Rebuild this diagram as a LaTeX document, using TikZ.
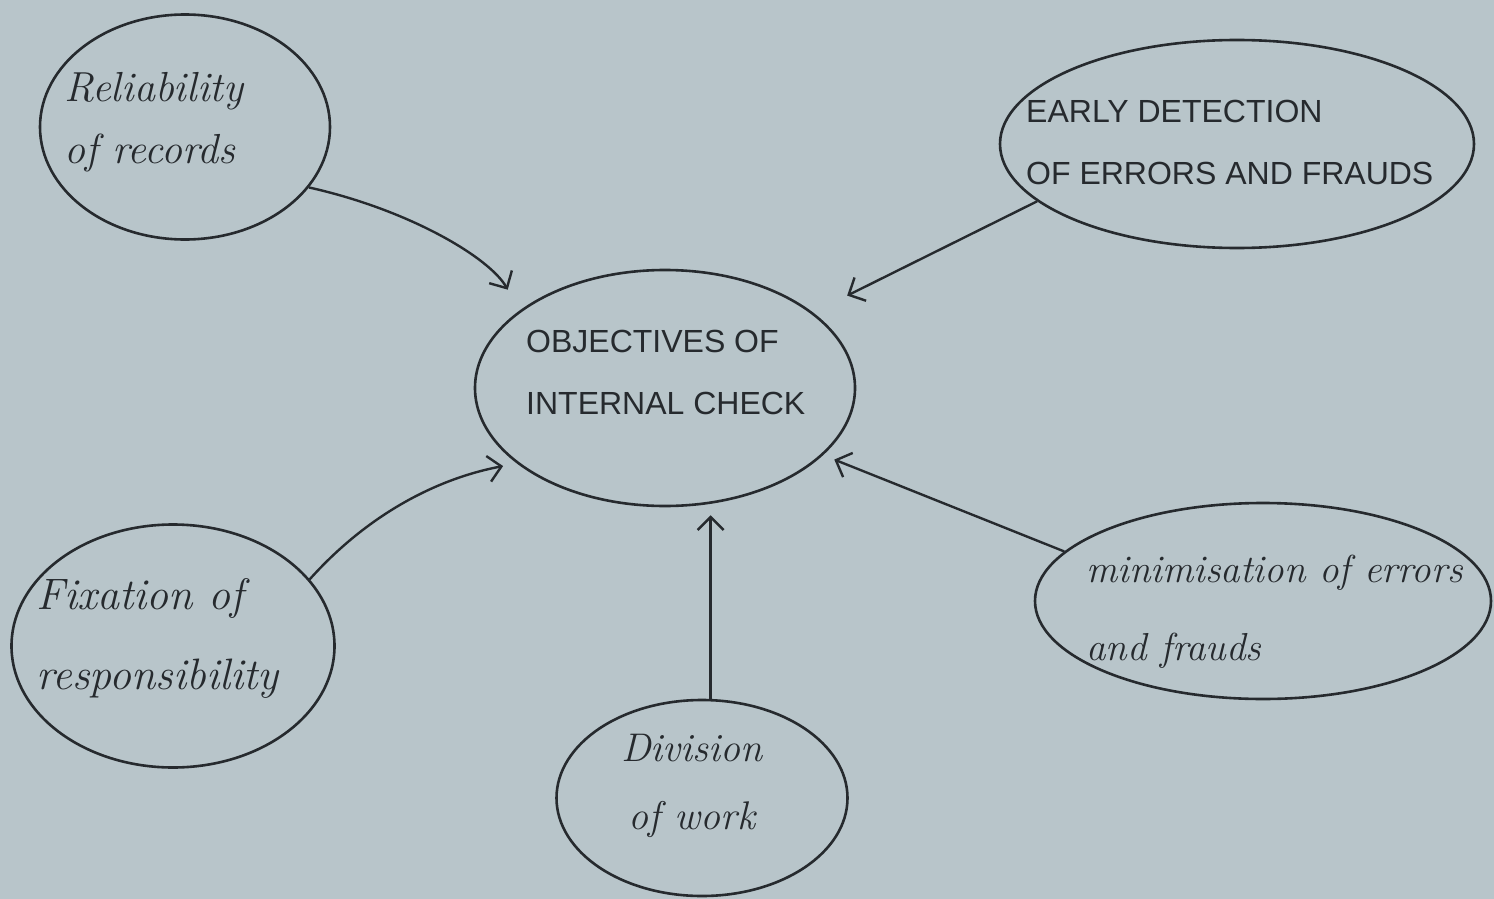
\documentclass[tikz,border=0pt]{standalone}
\usepackage{fontspec}
\setsansfont{Liberation Sans}
\usetikzlibrary{shapes.geometric,arrows.meta}
\definecolor{paper}{RGB}{184,197,202}
\definecolor{ink}{RGB}{38,42,46}
\begin{document}
\begin{tikzpicture}[x=1pt,y=-1pt,
  bubble/.style={draw=ink, line width=2.6pt, ellipse, inner sep=0pt},
  lbl/.style={text=ink, align=left, inner sep=0pt},
  hand/.style={lbl, font=\fontsize{42}{62}\selectfont\itshape},
  caps/.style={lbl, font=\fontsize{32}{62}\selectfont\sffamily},
  link/.style={draw=ink, line width=2.4pt, -{Straight Barb[length=13pt,width=26pt,line width=2.4pt]}}]
\fill[paper] (0,0) rectangle (1494,899);
\useasboundingbox (0,0) rectangle (1494,899);

% bubbles
\node[bubble, minimum width=290pt, minimum height=225pt] (rel) at (185,127) {};
\node[bubble, minimum width=474pt, minimum height=208pt] (early) at (1237,144) {};
\node[bubble, minimum width=380pt, minimum height=236pt] (ctr) at (665,388) {};
\node[bubble, minimum width=323pt, minimum height=243pt] (fix) at (173,646) {};
\node[bubble, minimum width=291pt, minimum height=196pt] (div) at (702,798) {};
\node[bubble, minimum width=456pt, minimum height=196pt] (mini) at (1263,601) {};

% texts
\node[hand, anchor=west] (relT) at (64,122) {Reliability\\of records};
\node[caps, anchor=west] (earlyT) at (1026,142) {EARLY DETECTION\\OF ERRORS AND FRAUDS};
\node[caps, anchor=west] (ctrT) at (526,372) {OBJECTIVES OF\\INTERNAL CHECK};
\node[hand, anchor=west, font=\fontsize{44}{80}\selectfont\itshape] (fixT) at (36,638) {Fixation of\\responsibility};
\node[hand, align=center, font=\fontsize{40}{68}\selectfont\itshape] (divT) at (692,786) {Division\\of work};
\node[hand, anchor=west, font=\fontsize{39}{78}\selectfont\itshape] (miniT) at (1086,612) {minimisation of errors\\and frauds};

% connectors
\draw[link, shorten >=24pt] (rel.-26) .. controls (410,210) and (490,258) .. (ctr.152);
\draw[link, shorten >=38pt] (early.-164) -- (ctr.27);
\draw[link, shorten >=14pt] (fix.26) .. controls (370,512) and (440,478) .. (ctr.-153);
\draw[link, shorten >=8pt] (div.85) -- (div.85 |- ctr.south);
\draw[link, shorten >=12pt] (mini.166) -- (ctr.-23);
\end{tikzpicture}
\end{document}
